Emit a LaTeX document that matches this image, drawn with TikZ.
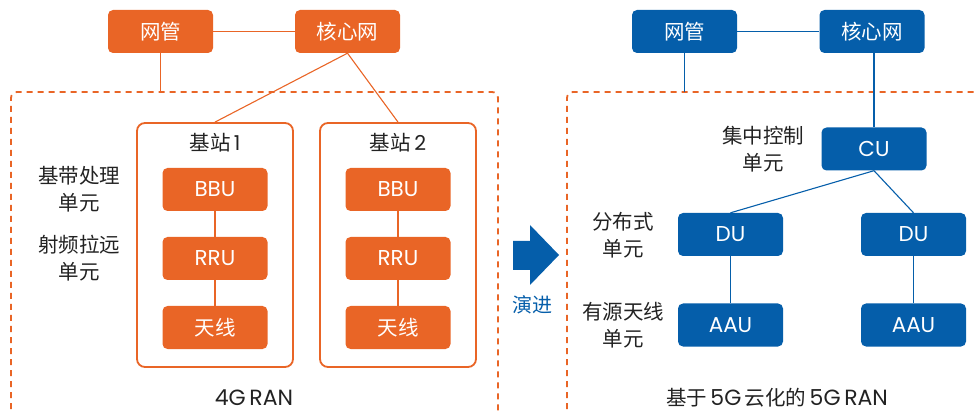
\documentclass[tikz,border=0pt]{standalone}
\usepackage{fontspec}
\setmainfont{Noto Sans CJK SC}
\newfontfamily\latf{Poppins}
\definecolor{myorange}{RGB}{233,101,38}
\definecolor{myblue}{RGB}{5,94,170}
\definecolor{mytext}{RGB}{34,34,34}
\begin{document}
\begin{tikzpicture}[x=1pt,y=-1pt,
  box/.style={rounded corners=5pt, text=white, minimum width=105pt, minimum height=43pt, inner sep=0pt, font=\fontsize{20.5}{20.5}\selectfont},
  obox/.style={box, fill=myorange},
  bbox/.style={box, fill=myblue},
  lat/.style={font=\latf\fontsize{21.5}{21.5}\selectfont},
  station/.style={draw=myorange, line width=1.8pt, rounded corners=8pt, minimum width=156pt, minimum height=244pt, inner sep=0pt},
  lbl/.style={text=mytext, font=\fontsize{20.5}{27}\selectfont, align=center, inner sep=0pt},
  oline/.style={draw=myorange, line width=1.1pt},
  bline/.style={draw=myblue, line width=1.1pt},
  dline/.style={draw=myorange, line width=1.8pt, dash pattern=on 6pt off 5pt, rounded corners=6pt}
]
\useasboundingbox (0,0) rectangle (978,414);
\begin{scope}
\clip (0,0) rectangle (978,414);
\draw[dline] (11,420) -- (11,92) -- (498,92) -- (498,420);
\draw[dline] (567,420) -- (567,92) -- (990,92);
\end{scope}

\node[obox] (nm1) at (160.5,31.5) {网管};
\node[obox] (core1) at (347.5,31.5) {核心网};
\coordinate (d1) at (160.5,92);
\draw[oline] (nm1) -- (core1);
\draw[oline] (nm1.south) -- (d1);

\node[station] (bs1) at (215,245) {};
\node[station] (bs2) at (398,245) {};
\draw[oline] (core1.south) -- (bs1.north);
\draw[oline] (core1.south) -- (bs2.north);

\node[lbl] (t1) at (215,143) {基站\,{\latf 1}};
\node[lbl] (t2) at (398,143) {基站\,{\latf 2}};

\node[obox, lat] (bbu1) at (215,189.5) {BBU};
\node[obox, lat] (rru1) at (215,258.5) {RRU};
\node[obox] (ant1) at (215,327.5) {天线};
\node[obox, lat] (bbu2) at (398,189.5) {BBU};
\node[obox, lat] (rru2) at (398,258.5) {RRU};
\node[obox] (ant2) at (398,327.5) {天线};
\draw[oline] (bbu1) -- (rru1);
\draw[oline] (rru1) -- (ant1);
\draw[oline] (bbu2) -- (rru2);
\draw[oline] (rru2) -- (ant2);

\node[lbl] (l1) at (79,189.5) {基带处理\\单元};
\node[lbl] (l2) at (79,258) {射频拉远\\单元};
\node[lbl, font=\latf\fontsize{22}{22}\selectfont] (cap1) at (254,398) {4G\,RAN};

\fill[myblue] (513,241) -- (530,241) -- (530,225) -- (559,255) -- (530,285) -- (530,270) -- (513,270) -- cycle;
\node[text=myblue, font=\fontsize{20}{20}\selectfont, inner sep=0pt] (evo) at (532,305) {演进};

\node[bbox] (nm2) at (684.5,31.5) {网管};
\node[bbox] (core2) at (872,31.5) {核心网};
\coordinate (d2) at (684.5,92);
\draw[bline] (nm2) -- (core2);
\draw[bline] (nm2.south) -- (d2);

\node[bbox, lat] (cu) at (874,149) {CU};
\node[bbox, lat] (du1) at (730.5,234.5) {DU};
\node[bbox, lat] (du2) at (913.5,234.5) {DU};
\node[bbox, lat] (aau1) at (730.5,325) {AAU};
\node[bbox, lat] (aau2) at (913.5,325) {AAU};
\draw[bline] (cu.north |- core2.south) -- (cu.north);
\draw[bline] (cu.south) -- (du1.north);
\draw[bline] (cu.south) -- (du2.north);
\draw[bline] (du1) -- (aau1);
\draw[bline] (du2) -- (aau2);

\node[lbl] (l3) at (763,149) {集中控制\\单元};
\node[lbl] (l4) at (623,235) {分布式\\单元};
\node[lbl] (l5) at (623,325) {有源天线\\单元};
\node[lbl] (cap2) at (777,398) {基于\,{\latf\fontsize{22}{22}\selectfont 5G}\,云化的\,{\latf\fontsize{22}{22}\selectfont 5G\,RAN}};
\end{tikzpicture}
\end{document}
